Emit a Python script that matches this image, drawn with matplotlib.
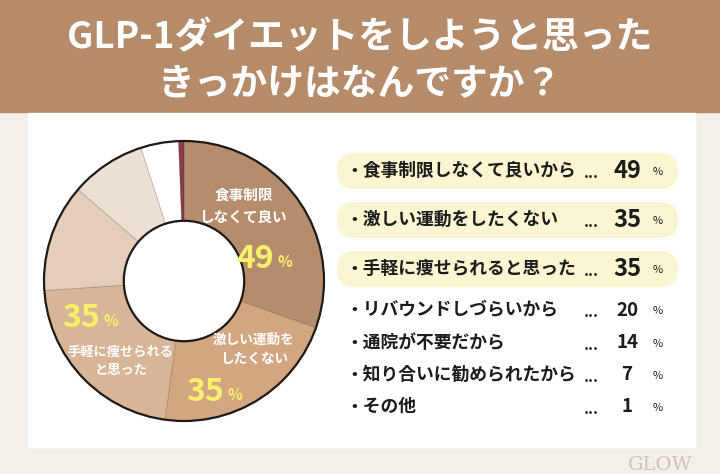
import matplotlib
matplotlib.use('Agg')
import matplotlib.pyplot as plt
from matplotlib.patches import Rectangle, FancyBboxPatch, Circle

plt.rcParams['font.family'] = ['Noto Sans CJK JP', 'DejaVu Sans']

# data
title_lines = ['GLP-1ダイエットをしようと思った', 'きっかけはなんですか？']
labels = ['食事制限しなくて良いから', '激しい運動をしたくない', '手軽に痩せられると思った',
          'リバウンドしづらいから', '通院が不要だから', '知り合いに勧められたから', 'その他']
values = [49, 35, 35, 20, 14, 7, 1]
colors = ['#b58d6d', '#d3a682', '#d9b597', '#e4cdb9', '#ece0d4', '#ffffff', '#8a3a48']
donut_labels = ['食事制限\nしなくて良い', '激しい運動を\nしたくない', '手軽に痩せられる\nと思った']
n_top = 3

BROWN = '#b58b69'
YELLOW = '#fbf06a'
PILL = '#fbf6d2'

fig = plt.figure(figsize=(7.2, 4.74), dpi=100)

# background layer
bg = fig.add_axes([0, 0, 1, 1])
bg.set_xlim(0, 720)
bg.set_ylim(474, 0)
bg.axis('off')
bg.add_patch(Rectangle((0, 0), 720, 474, color='#f4efe9'))
bg.add_patch(Rectangle((0, 0), 720, 112, color=BROWN))
bg.add_patch(Rectangle((28, 113), 667, 334, color='white'))

# donut
cx, cy, r = 184, 281, 140
span = 1.02
size = 2 * r * span
pax = fig.add_axes([(cx - r * span) / 720, (474 - cy - r * span) / 474, size / 720, size / 474])
pax.pie(values, colors=colors, startangle=90, counterclock=False, radius=1,
        wedgeprops=dict(width=0.57, edgecolor=(0, 0, 0, 0.18), linewidth=0.6))
pax.add_patch(Circle((0, 0), 1, fill=False, ec='#1e1a18', lw=1.6))
pax.add_patch(Circle((0, 0), 0.43, fill=False, ec='#1e1a18', lw=1.6))
pax.set_xlim(-span, span)
pax.set_ylim(-span, span)
pax.set_aspect('equal')
pax.axis('off')

# overlay for texts
ov = fig.add_axes([0, 0, 1, 1])
ov.set_xlim(0, 720)
ov.set_ylim(474, 0)
ov.axis('off')
ov.patch.set_alpha(0)

for i, line in enumerate(title_lines):
    ov.text(360, 38 + i * 47, line, color='white', fontsize=26.5, fontweight='bold',
            ha='center', va='center')

# labels inside the donut
lab_pos = [(244, 206), (254, 349), (121, 361)]
lab_size = [10.5, 9.8, 9.5]
pct_pos = [(270, 259), (220, 392), (96, 318)]
for i in range(n_top):
    lx, ly = lab_pos[i]
    ov.text(lx, ly, donut_labels[i], color='white', fontsize=lab_size[i], fontweight='bold',
            ha='center', va='center', linespacing=1.45)
    px, py = pct_pos[i]
    ov.text(px + 4, py, str(values[i]), color=YELLOW, fontsize=23, fontweight='bold',
            ha='right', va='center')
    ov.text(px + 7, py + 3, '%', color=YELLOW, fontsize=11, fontweight='bold',
            ha='left', va='center')

# list on the right
rows_y = [171, 220, 269, 310, 343, 375, 407]
for i, (lab, val) in enumerate(zip(labels, values)):
    y = rows_y[i]
    if i < n_top:
        ov.add_patch(FancyBboxPatch((337, y - 18), 341, 36,
                                    boxstyle='round,pad=0,rounding_size=18',
                                    fc=PILL, ec='none'))
    ov.text(345, y, '・' + lab, color='#1c1c1c', fontsize=12.8, fontweight='bold',
            ha='left', va='center')
    ov.text(591, y + 2, '...', color='#1c1c1c', fontsize=11, fontweight='bold',
            ha='center', va='center')
    ov.text(627, y, str(val), color='#1c1c1c', fontsize=17 if i < n_top else 13.5,
            fontweight='bold', ha='center', va='center')
    ov.text(658, y + 1, '%', color='#1c1c1c', fontsize=8, ha='center', va='center')

# watermark
ov.text(660, 465, 'GLOW', color='#cbc3bb', fontsize=14, family='DejaVu Serif',
        ha='center', va='center')

fig.savefig('out.png', dpi=100)
